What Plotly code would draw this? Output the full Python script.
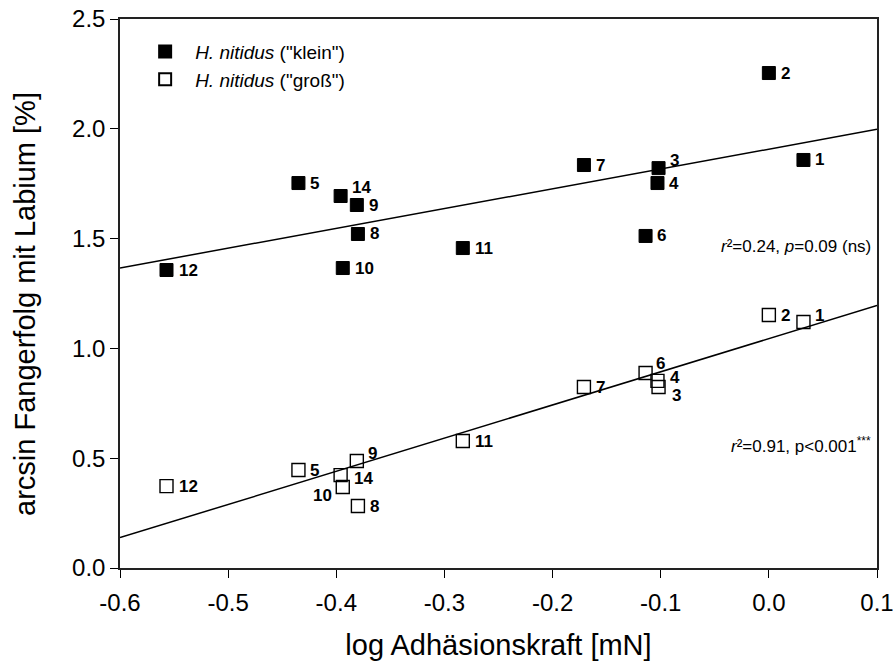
import plotly.graph_objects as go
import numpy as np

# Data: "klein" (filled squares)
klein_id = ["1", "2", "3", "4", "5", "6", "7", "8", "9", "10", "11", "12", "14"]
klein_x = [0.032, 0.0, -0.102, -0.103, -0.435, -0.114, -0.171, -0.380, -0.381, -0.394, -0.283, -0.557, -0.396]
klein_y = [1.858, 2.254, 1.821, 1.753, 1.753, 1.512, 1.835, 1.521, 1.653, 1.366, 1.457, 1.357, 1.694]

# Data: "groß" (open squares)
gross_id = ["1", "2", "3", "4", "5", "6", "7", "8", "9", "10", "11", "12", "14"]
gross_x = [0.032, 0.0, -0.102, -0.103, -0.435, -0.114, -0.171, -0.380, -0.381, -0.394, -0.283, -0.557, -0.396]
gross_y = [1.12, 1.152, 0.824, 0.852, 0.446, 0.888, 0.824, 0.282, 0.487, 0.369, 0.578, 0.373, 0.423]

x_range = [-0.6, 0.1]
y_range = [0.0, 2.5]
x_ticks = [-0.6, -0.5, -0.4, -0.3, -0.2, -0.1, 0.0, 0.1]
x_tick_labels = ["-0.6", "-0.5", "-0.4", "-0.3", "-0.2", "-0.1", "0.0", "0.1"]
y_ticks = [0.0, 0.5, 1.0, 1.5, 2.0, 2.5]
y_tick_labels = ["0.0", "0.5", "1.0", "1.5", "2.0", "2.5"]

# label offsets in pixels (xshift, yshift, anchor) per point
klein_off = {"3": (9, 8, "left"), "6": (9, 0, "left"), "14": (9, 9, "left")}
gross_off = {"1": (10, 7, "left"), "3": (11, -8, "left"), "4": (11, 3, "left"),
             "6": (8, 10, "left"), "9": (9, 8, "left"), "14": (11, -3, "left"),
             "10": (-9, -9, "right")}

FONT = "Liberation Sans, Arial, sans-serif"

fig = go.Figure()

# regression lines computed from the data
for xs, ys in [(klein_x, klein_y), (gross_x, gross_y)]:
    m, b = np.polyfit(xs, ys, 1)
    lx = np.array(x_range)
    fig.add_trace(go.Scatter(x=lx, y=m * lx + b, mode="lines",
                             line=dict(color="black", width=1.5),
                             showlegend=False, hoverinfo="skip"))

fig.add_trace(go.Scatter(
    x=klein_x, y=klein_y, mode="markers",
    marker=dict(symbol="square", size=13, color="black", line=dict(color="black", width=1)),
    name='<i>H. nitidus</i> ("klein")'))

fig.add_trace(go.Scatter(
    x=gross_x, y=gross_y, mode="markers",
    marker=dict(symbol="square-open", size=13, color="black", line=dict(width=1.4)),
    name='<i>H. nitidus</i> ("groß")'))

for ids, xs, ys, offs in [(klein_id, klein_x, klein_y, klein_off), (gross_id, gross_x, gross_y, gross_off)]:
    for i, xv, yv in zip(ids, xs, ys):
        dx, dy, anc = offs.get(i, (10, 0, "left"))
        fig.add_annotation(x=xv, y=yv, text="<b>%s</b>" % i, showarrow=False,
                           xanchor=anc, yanchor="middle", xshift=dx, yshift=dy,
                           font=dict(family=FONT, size=17, color="black"))

fig.add_annotation(x=0.995, y=0.585, xref="paper", yref="paper", xanchor="right", yanchor="middle",
                   text="<i>r</i>²=0.24, <i>p</i>=0.09 (ns)", showarrow=False,
                   font=dict(family=FONT, size=17, color="black"))
fig.add_annotation(x=0.995, y=0.224, xref="paper", yref="paper", xanchor="right", yanchor="middle",
                   text="<i>r</i>²=0.91, p<0.001<sup>***</sup>", showarrow=False,
                   font=dict(family=FONT, size=17, color="black"))

# y axis title placed as rotated annotation
fig.add_annotation(x=0, y=0.481, xref="paper", yref="paper", xanchor="center", yanchor="middle",
                   xshift=-95, textangle=-90, showarrow=False,
                   text="arcsin Fangerfolg mit Labium [%]",
                   font=dict(family=FONT, size=29, color="black"))

axis_common = dict(showline=True, linecolor="#222222", linewidth=1.5, mirror=True,
                   ticks="outside", ticklen=8, tickwidth=1.2, tickcolor="black",
                   showgrid=False, zeroline=False, automargin=False, ticklabeloverflow="allow",
                   tickfont=dict(family=FONT, size=24, color="black"))

fig.update_xaxes(range=x_range, tickvals=x_ticks, ticktext=x_tick_labels, ticklabelstandoff=4,
                 title=dict(text="log Adhäsionskraft [mN]", font=dict(family=FONT, size=29, color="black"),
                            standoff=20),
                 **axis_common)
fig.update_yaxes(range=y_range, tickvals=y_ticks, ticktext=y_tick_labels, **axis_common)

fig.update_layout(
    width=893, height=664,
    margin=dict(l=120, r=16, t=19, b=96),
    plot_bgcolor="white", paper_bgcolor="white",
    font=dict(family=FONT, color="black"),
    legend=dict(x=0.02, y=0.975, xanchor="left", yanchor="top", bgcolor="rgba(0,0,0,0)",
                font=dict(family=FONT, size=19, color="black"), itemsizing="constant",
                itemwidth=50, tracegroupgap=0),
)

fig.write_html("out.html")
